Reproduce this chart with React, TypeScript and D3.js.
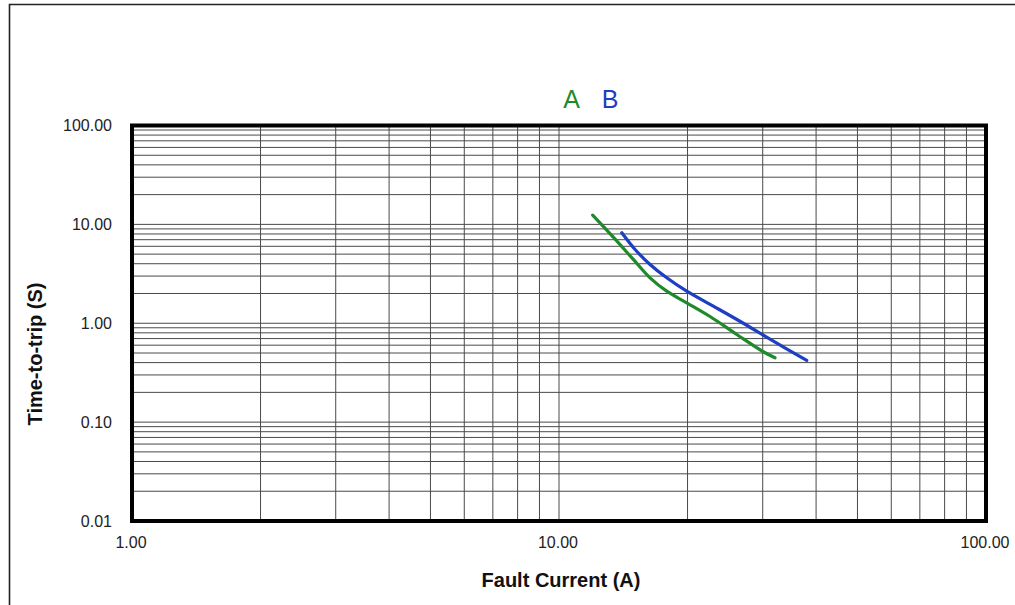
import React from "react";
import * as d3 from "d3";

const seriesAX = [11.99, 13.4, 14.93, 16.34, 17.88, 19.91, 22.58, 26.08, 30.09, 32.05];
const seriesAY = [12.4, 7.42, 4.42, 2.88, 2.11, 1.61, 1.17, 0.77, 0.515, 0.448];
const seriesBX = [14.03, 15.07, 16.34, 17.88, 19.91, 22.98, 27.02, 31.2, 38.03];
const seriesBY = [8.22, 5.57, 3.93, 2.88, 2.11, 1.49, 1.0, 0.69, 0.421];
const xTicks = [1, 10, 100];
const yTicks = [0.01, 0.1, 1, 10, 100];
const legendLabels = ["A", "B"];
const seriesColors = ["#1f8a2c", "#1e3ec4"];

const W = 1015;
const H = 605;
const L = 132, R = 986, T = 125.5, B = 521;

export default function App() {
  const x = d3.scaleLog().domain([1, 100]).range([L, R]);
  const y = d3.scaleLog().domain([0.01, 100]).range([B, T]);

  const xMinor: number[] = [];
  for (let d = 1; d < 100; d *= 10) for (let k = 1; k <= 9; k++) xMinor.push(d * k);
  const yMinor: number[] = [];
  for (let d = 0.01; d < 100; d *= 10) for (let k = 1; k <= 9; k++) yMinor.push(d * k);

  const line = d3
    .line<[number, number]>()
    .x((d) => x(d[0]))
    .y((d) => y(d[1]))
    .curve(d3.curveCatmullRom.alpha(0.5));

  const dataA = seriesAX.map((v, i) => [v, seriesAY[i]] as [number, number]);
  const dataB = seriesBX.map((v, i) => [v, seriesBY[i]] as [number, number]);

  const font = "'Liberation Sans', Arial, sans-serif";

  return (
    <svg
      width={W}
      height={H}
      style={{ position: "absolute", left: 0, top: 0, background: "#fff" }}
    >
      <rect x={0} y={0} width={W} height={H} fill="#fff" />
      {/* outer border */}
      <path d={`M9.5,${H + 5} L9.5,4.5 L${W + 5},4.5`} fill="none" stroke="#222" strokeWidth={1.6} />

      {/* grid */}
      {xMinor.map((v, i) => (
        <line key={"gx" + i} x1={x(v)} x2={x(v)} y1={T} y2={B} stroke="#4a4a4a" strokeWidth={1} />
      ))}
      {yMinor.map((v, i) => (
        <line key={"gy" + i} x1={L} x2={R} y1={y(v)} y2={y(v)} stroke="#4a4a4a" strokeWidth={1} />
      ))}

      {/* plot border */}
      <rect x={L} y={T} width={R - L} height={B - T} fill="none" stroke="#000" strokeWidth={4} />

      {/* y tick labels */}
      {yTicks.map((v, i) => (
        <text
          key={"yt" + i}
          x={112}
          y={y(v)}
          textAnchor="end"
          dominantBaseline="central"
          fontFamily={font}
          fontSize={16}
          fill="#222"
        >
          {v.toFixed(2)}
        </text>
      ))}
      {/* x tick labels */}
      {xTicks.map((v, i) => (
        <text
          key={"xt" + i}
          x={x(v) - 1}
          y={542}
          textAnchor="middle"
          dominantBaseline="central"
          fontFamily={font}
          fontSize={16}
          fill="#222"
        >
          {v.toFixed(2)}
        </text>
      ))}

      {/* axis titles */}
      <text
        x={561}
        y={580}
        textAnchor="middle"
        dominantBaseline="central"
        fontFamily={font}
        fontWeight="bold"
        fontSize={20}
        fill="#111"
      >
        Fault Current (A)
      </text>
      <text
        transform={`translate(35,${354}) rotate(-90)`}
        textAnchor="middle"
        dominantBaseline="central"
        fontFamily={font}
        fontWeight="bold"
        fontSize={20}
        fill="#111"
      >
        Time-to-trip (S)
      </text>

      {/* legend */}
      {legendLabels.map((s, i) => (
        <text
          key={"lg" + i}
          x={571.5 + i * 38.5}
          y={99}
          textAnchor="middle"
          dominantBaseline="central"
          fontFamily={font}
          fontSize={25}
          fill={seriesColors[i]}
        >
          {s}
        </text>
      ))}

      {/* curves */}
      <path d={line(dataA) || ""} fill="none" stroke={seriesColors[0]} strokeWidth={3.2} strokeLinecap="round" />
      <path d={line(dataB) || ""} fill="none" stroke={seriesColors[1]} strokeWidth={3.2} strokeLinecap="round" />
    </svg>
  );
}
